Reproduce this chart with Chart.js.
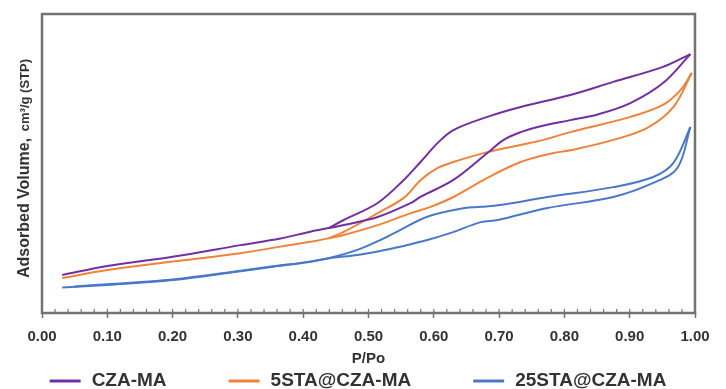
<!DOCTYPE html>
<html>
<head>
<meta charset="utf-8">
<script src="https://cdn.jsdelivr.net/npm/chart.js@4.4.0/dist/chart.umd.min.js"></script>
<style>
  html, body { margin: 0; padding: 0; background: #fff; }
  #wrap { width: 726px; height: 389px; }
</style>
</head>
<body>
<div id="wrap"><canvas id="chart" width="726" height="389"></canvas></div>
<script>
// Nomi delle serie e colori
const seriesNames = ['CZA-MA', '5STA@CZA-MA', '25STA@CZA-MA'];
const seriesColors = ['#7030A0', '#F0823A', '#4A78C8'];

// Tick dell'asse P/Po
const xTicks = [0, 0.1, 0.2, 0.3, 0.4, 0.5, 0.6, 0.7, 0.8, 0.9, 1.0];
const xTickLabels = ['0.00', '0.10', '0.20', '0.30', '0.40', '0.50', '0.60', '0.70', '0.80', '0.90', '1.00'];

// CZA-MA: adsorbimento (ramo basso) e desorbimento (ramo alto)
const czaAdsP = [0.031, 0.10, 0.20, 0.304, 0.365, 0.411, 0.439, 0.462, 0.514, 0.565, 0.58, 0.63, 0.682, 0.707, 0.733, 0.759, 0.809, 0.851, 0.901, 0.951, 0.993];
const czaAdsV = [12.7, 15.7, 18.8, 22.7, 24.9, 27.2, 28.4, 29.4, 32.1, 36.8, 38.9, 44.5, 53.5, 57.9, 60.5, 62.2, 64.5, 66.4, 70.2, 76.9, 86.6];
const czaDesP = [0.439, 0.462, 0.514, 0.554, 0.58, 0.606, 0.63, 0.682, 0.733, 0.809, 0.875, 0.951, 0.993];
const czaDesV = [28.4, 31.1, 36.8, 44.5, 50.6, 56.9, 61.2, 65.6, 68.9, 72.9, 77.3, 82.3, 86.6];

// 5STA@CZA-MA
const sta5AdsP = [0.031, 0.10, 0.20, 0.304, 0.365, 0.411, 0.439, 0.462, 0.514, 0.565, 0.595, 0.63, 0.682, 0.733, 0.783, 0.809, 0.875, 0.927, 0.967, 0.995];
const sta5AdsV = [11.7, 14.4, 17.2, 20.0, 22.2, 23.8, 25.0, 26.1, 29.4, 33.4, 35.5, 38.8, 45.2, 50.5, 53.5, 54.4, 57.9, 61.9, 68.9, 80.3];
const sta5DesP = [0.439, 0.462, 0.514, 0.554, 0.58, 0.606, 0.63, 0.682, 0.733, 0.768, 0.809, 0.901, 0.951, 0.978, 0.995];
const sta5DesV = [25.0, 27.1, 33.4, 38.5, 44.5, 48.5, 50.5, 53.8, 56.2, 57.9, 60.5, 65.6, 69.6, 74.6, 80.3];

// 25STA@CZA-MA
const sta25AdsP = [0.031, 0.10, 0.20, 0.304, 0.354, 0.407, 0.439, 0.483, 0.518, 0.545, 0.590, 0.626, 0.672, 0.698, 0.774, 0.875, 0.936, 0.973, 0.993];
const sta25AdsV = [8.5, 9.4, 11.0, 14.0, 15.5, 17.0, 18.3, 19.4, 20.7, 22.0, 24.4, 26.8, 30.4, 31.1, 35.1, 38.8, 43.5, 48.5, 62.2];
const sta25DesP = [0.05, 0.10, 0.20, 0.304, 0.354, 0.407, 0.439, 0.483, 0.518, 0.549, 0.590, 0.647, 0.672, 0.702, 0.774, 0.875, 0.936, 0.967, 0.993];
const sta25DesV = [8.9, 9.6, 11.2, 14.1, 15.6, 17.1, 18.3, 21.1, 24.4, 27.8, 32.2, 35.1, 35.5, 36.1, 38.8, 42.1, 45.5, 50.2, 62.2];

const toPoints = (px, vy) => px.map((p, i) => ({ x: p, y: vy[i] }));

function branch(label, color, px, vy) {
  return {
    label: label,
    data: toPoints(px, vy),
    borderColor: color,
    backgroundColor: color,
    borderWidth: 2,
    pointRadius: 0,
    tension: 0.35,
    fill: false
  };
}

const datasets = [
  branch(seriesNames[0], seriesColors[0], czaAdsP, czaAdsV),
  branch(seriesNames[0], seriesColors[0], czaDesP, czaDesV),
  branch(seriesNames[1], seriesColors[1], sta5AdsP, sta5AdsV),
  branch(seriesNames[1], seriesColors[1], sta5DesP, sta5DesV),
  branch(seriesNames[2], seriesColors[2], sta25AdsP, sta25AdsV),
  branch(seriesNames[2], seriesColors[2], sta25DesP, sta25DesV)
];

const FRAME = '#737373';
const TEXT = '#333333';
const FONT = "'Liberation Sans', Arial, sans-serif";

// cornice, tick minori, titolo asse y e legenda
const decorPlugin = {
  id: 'decor',
  afterDraw(chart) {
    const { ctx, chartArea: a } = chart;
    const xs = chart.scales.x;
    ctx.save();
    ctx.strokeStyle = FRAME;
    ctx.lineWidth = 2.5;
    ctx.strokeRect(a.left, a.top, a.right - a.left, a.bottom - a.top);

    ctx.lineWidth = 1.2;
    for (let i = 0; i <= 50; i++) {
      const px = xs.getPixelForValue(i * 0.02);
      ctx.beginPath();
      ctx.moveTo(px, a.bottom);
      ctx.lineTo(px, a.bottom - 4);
      ctx.stroke();
    }

    // titolo asse y
    ctx.fillStyle = TEXT;
    ctx.translate(29, 278);
    ctx.rotate(-Math.PI / 2);
    ctx.textBaseline = 'alphabetic';
    ctx.textAlign = 'left';
    ctx.font = 'bold 16px ' + FONT;
    const main = 'Adsorbed Volume,';
    ctx.fillText(main, 0, 0);
    const w = ctx.measureText(main).width;
    ctx.font = 'bold 13px ' + FONT;
    ctx.fillText(' cm\u00B3/g (STP)', w + 3, 0);
    ctx.restore();

    // legenda
    ctx.save();
    ctx.font = 'bold 19px ' + FONT;
    ctx.textBaseline = 'middle';
    const lineLen = 31, gapText = 11, gapItem = 62;
    const widths = seriesNames.map(n => lineLen + gapText + ctx.measureText(n).width);
    const total = widths.reduce((s, v) => s + v, 0) + gapItem * (seriesNames.length - 1);
    let x = 358 - total / 2;
    const y = 381;
    seriesNames.forEach((n, i) => {
      ctx.strokeStyle = seriesColors[i];
      ctx.lineWidth = 3;
      ctx.beginPath();
      ctx.moveTo(x, y);
      ctx.lineTo(x + lineLen, y);
      ctx.stroke();
      ctx.fillStyle = TEXT;
      ctx.fillText(n, x + lineLen + gapText, y);
      x += widths[i] + gapItem;
    });
    ctx.restore();
  }
};

new Chart(document.getElementById('chart'), {
  type: 'line',
  data: { datasets: datasets },
  plugins: [decorPlugin],
  options: {
    responsive: false,
    animation: false,
    devicePixelRatio: 1,
    layout: { padding: { top: 14, right: 31, left: 0, bottom: 0 } },
    plugins: {
      legend: { display: false },
      tooltip: { enabled: false }
    },
    scales: {
      x: {
        type: 'linear',
        min: 0,
        max: 1,
        afterBuildTicks: scale => { scale.ticks = xTicks.map(v => ({ value: v })); },
        afterFit: scale => { scale.height = 76; },
        ticks: {
          callback: (v, i) => xTickLabels[i],
          font: { family: FONT, size: 15, weight: 'bold' },
          color: TEXT,
          maxRotation: 0,
          autoSkip: false,
          padding: 10
        },
        grid: { display: true, drawOnChartArea: false, drawTicks: true, tickLength: 5, tickColor: FRAME, tickWidth: 1.5 },
        border: { display: false },
        title: {
          display: true,
          text: 'P/Po',
          color: TEXT,
          font: { family: FONT, size: 15, weight: 'bold' },
          padding: { top: 0, bottom: 21 }
        }
      },
      y: {
        type: 'linear',
        min: 0,
        max: 100,
        afterFit: scale => { scale.width = 42; },
        ticks: { display: false },
        grid: { display: false },
        border: { display: false }
      }
    }
  }
});
</script>
</body>
</html>
